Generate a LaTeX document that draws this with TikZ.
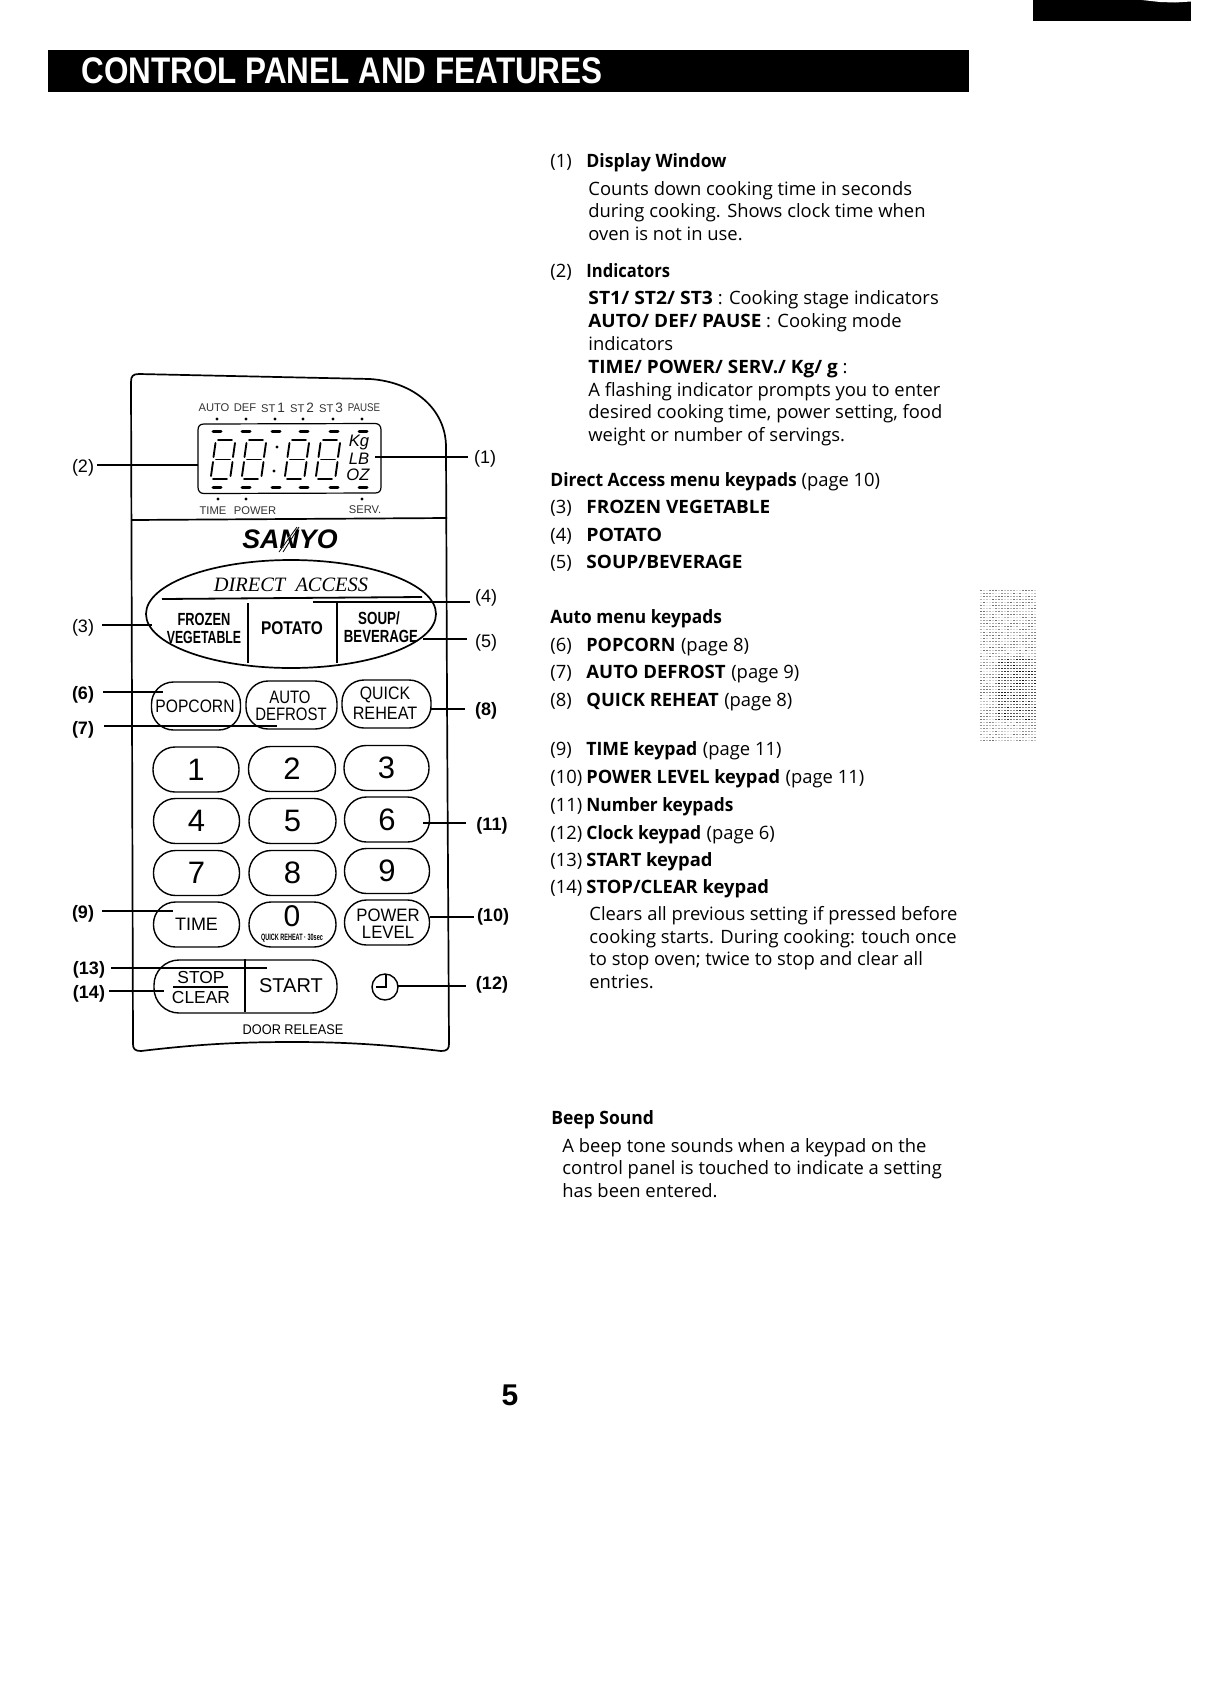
\documentclass[tikz,border=0pt]{standalone}
\usepackage{fontspec}
\setmainfont{Liberation Sans}
\newfontfamily\bodyf{Open Sans}
\newfontfamily\dispserif{Liberation Serif}
\newcommand{\fsz}[1]{\fontsize{#1}{#1}\selectfont}
\newcommand{\bsc}[2]{\scalebox{#1}[1]{\textbf{#2}}}
\newcommand{\nsc}[2]{\scalebox{#1}[1]{#2}}
\newcommand{\sevenseg}[2]{%
  \begin{scope}[shift={(#1,#2)},line width=.95pt,line cap=round]
    \draw (6,0) -- (20,0);
    \draw (3.5,3) -- (1.5,17);
    \draw (23,3) -- (21,17);
    \draw (4,19.5) -- (18,19.5);
    \draw (1,22) -- (-1,36);
    \draw (20.5,22) -- (18.5,36);
    \draw (1,39) -- (15,39);
  \end{scope}}
\tikzset{
  x=.5pt,y=-.5pt,
  pnl/.style={line width=.85pt,line join=round},
  conn/.style={line width=.8pt},
  lab/.style={inner sep=1.5pt,font=\fsz{9}},
  labb/.style={inner sep=1.5pt,font=\fsz{9}\bfseries},
  pt/.style={inner sep=0pt,align=center},
  pill/.style 2 args={draw,line width=.7pt,rounded corners=11pt,inner sep=0pt,minimum width=#1*.5pt,minimum height=#2*.5pt},
  tx/.style={anchor=base west,inner sep=0pt,font=\bodyf\fsz{9.2}},
  dispdot/.style={fill=black,inner sep=0pt,circle,minimum size=1.6pt},
  dlab/.style={inner sep=0pt,font=\fsz{5.6},text=black!80},
}
\begin{document}
\begin{tikzpicture}
\useasboundingbox (0,0) rectangle (1206,1692);
\fill[white] (0,0) rectangle (1206,1692);
% header bars
\fill[black] (1033,0) rectangle (1191,21);
\fill[white] (1142,0) -- (1160,2) -- (1175,2.5) -- (1191,1.5) -- (1191,0) -- cycle;
\fill[black] (48,50) rectangle (969,92);
\node[pt,text=white,font=\fsz{18.5}\bfseries] (title) at (342,71) {\scalebox{.85}[1]{CONTROL PANEL AND FEATURES}};
% panel
\draw[pnl] (131,382) .. controls (131,376) and (133,374) .. (139,374) -- (370,379)
  .. controls (415,382) and (446,410) .. (446,447) -- (447,700) -- (449,1044)
  .. controls (449,1049) and (447,1051) .. (441,1051)
  .. controls (380,1044) and (340,1042) .. (293,1042)
  .. controls (240,1042) and (200,1044) .. (141,1051)
  .. controls (135,1051) and (133,1049) .. (133,1044) -- cycle;
\draw[pnl] (132,520) -- (447,518);
% display
\draw[line width=.6pt] (198,430) .. controls (198,426) and (200,424) .. (204,424) -- (375,423.5)
  .. controls (379,423.5) and (381,426) .. (381,430) -- (381,487)
  .. controls (381,491) and (379,493) .. (375,493) -- (204,493.5)
  .. controls (200,493.5) and (198,491) .. (198,487) -- cycle;
\foreach \n/\x/\t in {a/214/AUTO,b/245/DEF,c/273/ST\,{\fsz{6.8}1},d/302/ST\,{\fsz{6.8}2},e/331/ST\,{\fsz{6.8}3},f/364/{\nsc{.87}{PAUSE}}}
  \node[dlab] (top\n) at (\x,408) {\t};
\foreach \n/\x in {a/217,b/246,c/275,d/303,e/333,f/362}
  \node[dispdot] (dt\n) at (\x,419) {};
\foreach \x in {217,246,276,304,334,363}{
  \draw[line width=1.5pt,line cap=round] (\x-4,431.5) -- (\x+4,431.5);
  \draw[line width=1.5pt,line cap=round] (\x-4,487) -- (\x+4,487);
}
\sevenseg{212}{440}
\sevenseg{243}{440}
\sevenseg{286}{440}
\sevenseg{317}{440}
\node[dispdot] (col1) at (277,447) {};
\node[dispdot] (col2) at (274,471) {};
\node[inner sep=0pt,font=\fsz{8.3}\itshape] (kg) at (359,443) {Kg};
\node[inner sep=0pt,font=\fsz{8.3}\itshape] (lb) at (359,459) {LB};
\node[inner sep=0pt,font=\fsz{8.3}\itshape] (oz) at (358,475) {OZ};
\foreach \n/\x in {a/218,b/246,c/362}
  \node[dispdot] (db\n) at (\x,499) {};
\node[dlab] (ti) at (213,511) {TIME};
\node[dlab] (po) at (255,511) {POWER};
\node[dlab] (se) at (365,510) {SERV.};
% logo
\node[pt,font=\fsz{13.4}\bfseries\itshape] (logo) at (290,539) {SANYO};
\draw[white,line width=.5pt] (281,550) -- (296,527);
\draw[line width=.4pt] (279,552) -- (297,527);
\draw[line width=.4pt] (283,552) -- (299,527);
% direct access oval
\draw[pnl] (291,614) ellipse [x radius=145,y radius=54];
\node[pt,font=\dispserif\fsz{10.2}\itshape] (da) at (291,585) {DIRECT\ \ ACCESS};
\draw[line width=.9pt] (162,599) -- (422,597);
\draw[line width=.9pt] (248,603) -- (248,663);
\draw[line width=.9pt] (337,603) -- (337,663);
\node[pt,font=\fsz{8.8}] (fz) at (204,619) {\bsc{.73}{FROZEN}};
\node[pt,font=\fsz{8.8}] (vg) at (204,637) {\bsc{.70}{VEGETABLE}};
\node[pt,font=\fsz{9.2}] (pot) at (292,628) {\bsc{.84}{POTATO}};
\node[pt,font=\fsz{8.8}] (sp) at (379,618) {\bsc{.76}{SOUP/}};
\node[pt,font=\fsz{8.8}] (bv) at (381,636) {\bsc{.75}{BEVERAGE}};
% auto row
\node[pill={89}{48}] (pop) at (196,706) {};
\node[pill={91}{48}] (adf) at (291.5,705) {};
\node[pill={89}{48}] (qrh) at (386.5,704) {};
\node[pt,font=\fsz{9}] (popt) at (195,706) {\nsc{.87}{POPCORN}};
\node[pt,font=\fsz{9}] (adf1) at (290,697) {\nsc{.83}{AUTO}};
\node[pt,font=\fsz{9}] (adf2) at (291,714) {\nsc{.83}{DEFROST}};
\node[pt,font=\fsz{9}] (qr1) at (385,695) {\nsc{.88}{QUICK}};
\node[pt,font=\fsz{9}] (qr2) at (385,713) {\nsc{.9}{REHEAT}};
% number keys
\foreach \n/\x/\y/\w in {1/196/769.5/86,2/292/769/87,3/386.5/768/85,4/196.5/821/86,5/292.5/821/87,6/387/819.5/85,7/196.5/873/86,8/292.5/873/87,9/387/871/85}
  \node[pill={\w}{45},font=\fsz{15.5}] (k\n) at (\x,\y) {\n};
\node[pill={86}{45},font=\fsz{9}] (ktime) at (196.5,924.5) {TIME};
\node[pill={87}{45}] (k0) at (292.5,924.5) {};
\node[pt,font=\fsz{15}] (k0t) at (292,916) {0};
\node[pt,font=\fsz{4.6}] (k0q) at (292,938) {\bsc{.6}{QUICK REHEAT · 30sec}};
\node[pill={85}{45}] (kpw) at (387,922.5) {};
\node[pt,font=\fsz{9}] (kpw1) at (388,915) {\nsc{.93}{POWER}};
\node[pt,font=\fsz{9}] (kpw2) at (388,932) {\nsc{.93}{LEVEL}};
% stop/start
\node[pill={183}{53},rounded corners=12.5pt] (ss) at (245.5,986.5) {};
\draw[line width=.9pt] (ss.north) ++(-.5,0) -- ++(0,53);
\draw[line width=.6pt] (173,987) -- (228,987);
\node[pt,font=\fsz{8.7}] (stp) at (201,977) {STOP};
\node[pt,font=\fsz{8.7}] (clr) at (201,997) {CLEAR};
\node[pt,font=\fsz{10}] (sta) at (291,986) {START};
% clock
\node[draw,circle,line width=.7pt,minimum size=13pt,inner sep=0pt] (clock) at (385,987) {};
\draw[line width=.7pt] (386,975) -- (386,987) -- (376,987);
\node[pt,font=\fsz{7}] (door) at (293,1030) {\nsc{.91}{DOOR RELEASE}};
% labels
\node[lab] (l1) at (485,459) {(1)};
\node[lab] (l2) at (83,468) {(2)};
\node[lab] (l3) at (83,628) {(3)};
\node[lab] (l4) at (486,598) {(4)};
\node[lab] (l5) at (486,643) {(5)};
\node[labb] (l6) at (83,695) {(6)};
\node[labb] (l7) at (83,730) {(7)};
\node[labb] (l8) at (486,711) {(8)};
\node[labb] (l9) at (83,914) {(9)};
\node[labb] (l10) at (493,917) {(10)};
\node[labb] (l11) at (492,826) {(11)};
\node[labb] (l12) at (492,985) {(12)};
\node[labb] (l13) at (89,970) {(13)};
\node[labb] (l14) at (89,994) {(14)};
% connector ends
\coordinate (c1) at (375,457);
\coordinate (c2) at (198,465);
\coordinate (c3) at (152,625);
\coordinate (c4) at (313,602);
\coordinate (c5) at (423,639);
\coordinate (c6) at (163,692);
\coordinate (c7) at (277,726);
\coordinate (c8) at (430,709);
\coordinate (c9) at (173,911);
\coordinate (c10) at (430,917);
\coordinate (c11) at (423,823);
\coordinate (c12) at (398,986);
\coordinate (c13) at (267,968);
\coordinate (c14) at (164,991);
\foreach \i/\dx in {1/-3,4/-2,5/-5,8/-7,10/0,11/-7,12/-7}{
  \path (l\i.west |- c\i) ++(\dx,0) coordinate (s\i);
  \draw[conn] (s\i) -- (c\i);
}
\foreach \i/\dx in {2/0,3/5,6/6,7/7,9/5,13/3,14/1}{
  \path (l\i.east |- c\i) ++(\dx,0) coordinate (s\i);
  \draw[conn] (s\i) -- (c\i);
}
% right column
\node[tx] (a1) at (550,167) {(1)};
\node[tx] (a2) at (586,167) {\bsc{.96}{Display Window}};
\node[tx] (a3) at (588,195) {Counts down cooking time in seconds};
\node[tx] (a4) at (588,217) {during cooking. Shows clock time when};
\node[tx] (a5) at (588,240) {oven is not in use.};
\node[tx] (b1) at (550,277) {(2)};
\node[tx] (b2) at (586,277) {\bsc{.9}{Indicators}};
\node[tx] (b3) at (588,304) {\bsc{1.05}{ST1/ ST2/ ST3} : Cooking stage indicators};
\node[tx] (b4) at (588,327) {\bsc{1.03}{AUTO/ DEF/ PAUSE} : Cooking mode};
\node[tx] (b5) at (588,350) {indicators};
\node[tx] (b6) at (588,373) {\bsc{1.03}{TIME/ POWER/ SERV./ Kg/ g} :};
\node[tx] (b7) at (588,396) {A flashing indicator prompts you to enter};
\node[tx] (b8) at (588,418) {desired cooking time, power setting, food};
\node[tx] (b9) at (588,441) {weight or number of servings.};
\node[tx] (c0) at (550,486) {\bsc{.95}{Direct Access menu keypads} (page 10)};
\foreach \n/\y/\num/\s/\t in {d3/513/(3)/1.03/{FROZEN VEGETABLE},d4/541/(4)/1.06/{POTATO},d5/568/(5)/1.035/{SOUP/BEVERAGE},d6/651/(6)/.98/{POPCORN},d7/678/(7)/1.01/{AUTO DEFROST},d8/706/(8)/1/{QUICK REHEAT},d9/755/(9)/.96/{TIME keypad},d10/783/(10)/.99/{POWER LEVEL keypad},d11/811/(11)/.94/{Number keypads},d12/839/(12)/.95/{Clock keypad},d13/866/(13)/1/{START keypad},d14/893/(14)/1/{STOP/CLEAR keypad}}{
  \node[tx] (\n n) at (550,\y) {\num};
  \node[tx] (\n t) at (586,\y) {\bsc{\s}{\t}};
}
\node[tx] (d6p) at (d6t.base east) {\ (page 8)};
\node[tx] (d7p) at (d7t.base east) {\ (page 9)};
\node[tx] (d8p) at (d8t.base east) {\ (page 8)};
\node[tx] (d9p) at (d9t.base east) {\ (page 11)};
\node[tx] (d10p) at (d10t.base east) {\ (page 11)};
\node[tx] (d12p) at (d12t.base east) {\ (page 6)};
\node[tx] (e0) at (550,623) {\bsc{.94}{Auto menu keypads}};
\node[tx] (f1) at (589,920) {Clears all previous setting if pressed before};
\node[tx] (f2) at (589,943) {cooking starts. During cooking: touch once};
\node[tx] (f3) at (589,965) {to stop oven; twice to stop and clear all};
\node[tx] (f4) at (589,988) {entries.};
\node[tx] (g0) at (551,1124) {\bsc{.95}{Beep Sound}};
\node[tx] (g1) at (562,1152) {A beep tone sounds when a keypad on the};
\node[tx] (g2) at (562,1174) {control panel is touched to indicate a setting};
\node[tx] (g3) at (562,1197) {has been entered.};
\node[anchor=base,inner sep=0pt,font=\fsz{15}\bfseries] (page) at (510,1405) {5};
% halftone tab
\pgfmathsetseed{7}
\foreach \i in {0,...,18}{
  \foreach \j in {0,...,50}{
    \pgfmathsetmacro{\dk}{(\j>22 && \j<44 && \i>5 ? 30 : 8)+(\j>22 && \j<44 && \i>5 ? 65 : 50)*rnd}
    \fill[black!\dk] (980+3*\i,589.5+3*\j) rectangle ++(1.8,1.8);
  }
}
\end{tikzpicture}
\end{document}
